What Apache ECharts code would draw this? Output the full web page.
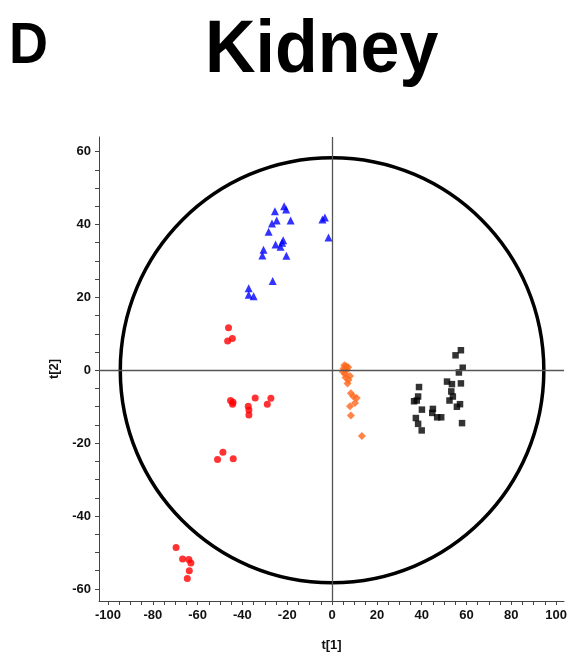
<!DOCTYPE html>
<html>
<head>
<meta charset="utf-8">
<script src="https://cdn.jsdelivr.net/npm/echarts@6/dist/echarts.min.js"></script>
<style>
  html, body { margin: 0; padding: 0; background: #fff; }
  #main { width: 570px; height: 657px; }
</style>
</head>
<body>
<div id="main"></div>
<script>
    // score values, [t1, t2]
    var blueTri = [
        [-25.5, 43.6], [-21.4, 45.0], [-20.5, 44.1], [-24.7, 41.1], [-26.8, 40.3],
        [-18.5, 41.1], [-28.3, 38.0], [-4.3, 41.4], [-3.2, 41.9], [-1.6, 36.4],
        [-25.2, 34.5], [-21.8, 35.7], [-22.3, 35.0], [-23.0, 33.9], [-30.6, 33.1],
        [-31.1, 31.5], [-20.4, 31.4], [-26.5, 24.5], [-37.2, 22.5], [-37.2, 20.7],
        [-35.0, 20.3]
    ];
    var redDots = [
        [-46.2, 11.7], [-46.6, 8.0], [-44.5, 8.7], [-45.3, -8.3], [-44.2, -8.8],
        [-44.4, -9.3], [-34.3, -7.6], [-27.3, -7.7], [-28.9, -9.3], [-37.4, -9.9],
        [-37.1, -10.9], [-37.1, -12.3], [-48.7, -22.5], [-51.1, -24.5], [-44.1, -24.3],
        [-69.6, -48.6], [-66.7, -51.8], [-63.9, -51.9], [-63.0, -52.9], [-63.7, -55.0],
        [-64.6, -57.1]
    ];
    var orangeDia = [
        [6.3, 1.1], [5.1, 0.5], [4.8, -0.4], [6.6, 0.1], [5.5, 1.4], [7.2, 0.8],
        [5.8, -1.0], [6.0, -2.0], [8.0, -1.6], [7.3, -2.7], [6.9, -3.6], [8.4, -6.3],
        [9.5, -7.2], [11.0, -7.6], [10.2, -9.0], [8.0, -9.9], [8.4, -12.4], [13.3, -18.0]
    ];
    var blackSq = [
        [57.5, 5.5], [55.1, 4.1], [58.3, 0.7], [56.6, -0.6], [38.8, -4.6],
        [51.3, -3.1], [53.5, -3.8], [57.5, -3.6], [53.2, -5.8], [53.9, -7.2],
        [38.4, -7.2], [37.8, -8.3], [36.6, -8.5], [52.4, -8.3], [57.1, -9.3],
        [55.7, -10.0], [40.1, -10.8], [45.0, -10.6], [44.7, -11.7], [46.9, -12.9],
        [48.7, -12.9], [37.4, -13.1], [38.4, -14.7], [40.0, -16.5], [58.0, -14.5]
    ];

    // Hotelling ellipse half-axes
    var ellipseA = 94.5;
    var ellipseB = 58.3;

    var xTicks = [-100, -80, -60, -40, -20, 0, 20, 40, 60, 80, 100];
    var yTicks = [-60, -40, -20, 0, 20, 40, 60];
    var xMinor = [], yMinor = [];
    for (var v = -100; v <= 100; v += 5) xMinor.push(v);
    for (var w = -60; w <= 60; w += 5) yMinor.push(w);

    var labelFont = {
        fontFamily: 'Liberation Sans, Arial, sans-serif',
        fontWeight: 'bold',
        fontSize: 13,
        color: '#111'
    };

    var myChart = echarts.init(document.getElementById('main'));

    myChart.setOption({
        animation: false,
        backgroundColor: '#fff',
        graphic: [
            {
                type: 'text', left: 9, top: 19, scaleY: 1.05,
                style: { text: 'D', fill: '#000', font: 'bold 54px "Liberation Sans", Arial, sans-serif' }
            },
            {
                type: 'text', left: 205, top: 15, scaleY: 1.05,
                style: { text: 'Kidney', fill: '#000', font: 'bold 70px "Liberation Sans", Arial, sans-serif' }
            }
        ],
        grid: { left: 99, right: 0, top: 137, bottom: 50, containLabel: false },
        xAxis: {
            type: 'value',
            min: -104,
            max: 103.5,
            name: 't[1]',
            nameLocation: 'middle',
            nameGap: 38,
            nameTextStyle: labelFont,
            axisLine: { show: true, onZero: false, lineStyle: { color: '#444', width: 1 } },
            axisTick: { show: true, customValues: xMinor, length: 4, lineStyle: { color: '#444' } },
            axisLabel: Object.assign({ customValues: xTicks, margin: 8 }, labelFont),
            splitLine: { show: false }
        },
        yAxis: {
            type: 'value',
            min: -63.3,
            max: 64,
            name: 't[2]',
            nameLocation: 'middle',
            nameGap: 29,
            nameRotate: 90,
            nameTextStyle: labelFont,
            axisLine: { show: true, onZero: false, lineStyle: { color: '#444', width: 1 } },
            axisTick: { show: true, customValues: yMinor, length: 4, lineStyle: { color: '#444' } },
            axisLabel: Object.assign({ customValues: yTicks, margin: 8 }, labelFont),
            splitLine: { show: false }
        },
        series: [
            {
                type: 'custom',
                z: 1,
                data: [[0, 0]],
                renderItem: function (params, api) {
                    var c = api.coord([0, 0]);
                    var s = api.size([ellipseA, ellipseB]);
                    return {
                        type: 'ellipse',
                        shape: { cx: c[0], cy: c[1], rx: s[0], ry: s[1] },
                        style: { fill: 'none', stroke: '#000', lineWidth: 3.5 }
                    };
                },
                markLine: {
                    silent: true,
                    symbol: 'none',
                    label: { show: false },
                    lineStyle: { color: '#555', width: 1.3, type: 'solid' },
                    data: [{ xAxis: 0 }, { yAxis: 0 }]
                }
            },
            {
                type: 'scatter', z: 3, data: blueTri,
                symbol: 'triangle', symbolSize: 8,
                itemStyle: { color: '#0000ff' }
            },
            {
                type: 'scatter', z: 3, data: redDots,
                symbol: 'circle', symbolSize: 7,
                itemStyle: { color: '#ff0000' }
            },
            {
                type: 'scatter', z: 3, data: orangeDia,
                symbol: 'diamond', symbolSize: 8,
                itemStyle: { color: '#ff6519' }
            },
            {
                type: 'scatter', z: 3, data: blackSq,
                symbol: 'rect', symbolSize: 6.5,
                itemStyle: { color: '#000' }
            }
        ]
    });
</script>
</body>
</html>
